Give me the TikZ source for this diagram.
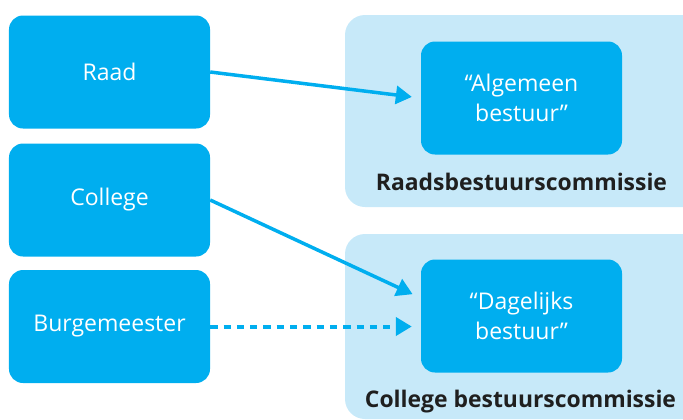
\documentclass[tikz,border=0pt]{standalone}
\usepackage{fontspec}
\setmainfont{Open Sans}
\usetikzlibrary{arrows.meta,calc}
\definecolor{rblue}{HTML}{00AEEF}
\definecolor{rlight}{HTML}{C7E9F9}
\definecolor{rdark}{HTML}{1F1F1F}
\begin{document}
\begin{tikzpicture}[x=1bp,y=-1bp,
  bluebox/.style={fill=rblue,draw=none,rounded corners=14bp,minimum width=201bp,minimum height=113bp,
    text=white,align=center,inner sep=0pt,font=\fontsize{23bp}{30bp}\selectfont},
  panel/.style={fill=rlight,draw=none,rounded corners=20bp},
  paneltitle/.style={text=rdark,anchor=base,inner sep=0pt,font=\fontsize{22.9bp}{27bp}\selectfont\bfseries},
  conn/.style={draw=rblue,line width=3.5bp,shorten >=9bp,-{Triangle[length=16bp,width=18bp]}},
  dashconn/.style={conn,line width=4bp,dash pattern=on 7.3bp off 6bp}]
\useasboundingbox (0,0) rectangle (683,419);
\clip (0,0) rectangle (683,419);
% panels
\fill[panel] (345,15) rectangle (720,207);
\fill[panel] (345,234) rectangle (720,419);
% left boxes
\node[bluebox] (raad) at (109.5,72) {Raad};
\node[bluebox] (college) at (109.5,200) {College};
\node[bluebox] (burg) at (109.5,326.5) {Burgemeester};
% inner boxes
\node[bluebox] (alg) at (521.5,98) {“Algemeen\\bestuur”};
\node[bluebox] (dag) at (521.5,316) {“Dagelijks\\bestuur”};
% panel titles
\node[paneltitle] (t1) at (521.5,190.5) {Raadsbestuurscommissie};
\node[paneltitle] (t2) at (520.5,407) {College bestuurscommissie};
% connectors
\draw[conn] (raad.east) -- (alg.west);
\draw[conn] (college.east) -- ([yshift=18bp]dag.west);
\draw[dashconn] (burg.east) -- (burg.east -| dag.west);
\end{tikzpicture}
\end{document}
